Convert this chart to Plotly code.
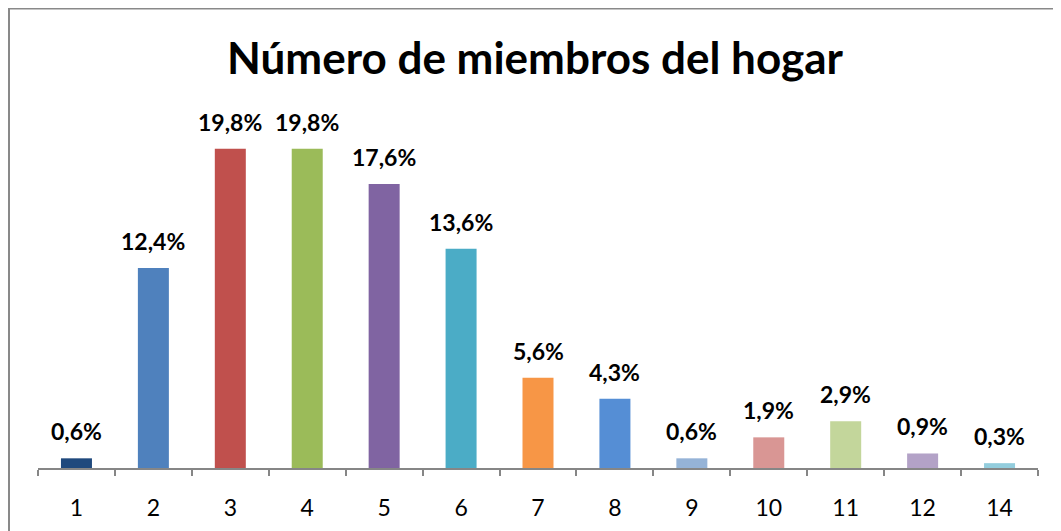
import plotly.graph_objects as go

categories = ["1", "2", "3", "4", "5", "6", "7", "8", "9", "10", "11", "12", "14"]
values = [0.6, 12.4, 19.8, 19.8, 17.6, 13.6, 5.6, 4.3, 0.6, 1.9, 2.9, 0.9, 0.3]
labels = ["0,6%", "12,4%", "19,8%", "19,8%", "17,6%", "13,6%", "5,6%", "4,3%", "0,6%", "1,9%", "2,9%", "0,9%", "0,3%"]
colors = ["#1F497D", "#4F81BD", "#C0504D", "#9BBB59", "#8064A2", "#4BACC6", "#F79646",
          "#558ED5", "#95B3D7", "#D99694", "#C3D69B", "#B3A2C7", "#93CDDD"]

W, H = 1061, 531
L, T = 30, 92
pw, ph = 1000, 368
R, B = W - L - pw, H - T - ph

fig = go.Figure()
fig.add_trace(go.Bar(x=categories, y=values, marker=dict(color=colors, line=dict(width=0)),
                     hoverinfo="skip"))

for i, (v, t) in enumerate(zip(values, labels)):
    fig.add_annotation(x=i, y=v, text="<b>" + t + "</b>", showarrow=False,
                       yanchor="bottom", yshift=11,
                       font=dict(family="Lato", size=23, color="#000000"))

def px_to_paper_x(px):
    return (px - L) / pw

def px_to_paper_y(py):
    return (H - B - py) / ph

fig.add_shape(type="rect", xref="paper", yref="paper",
              x0=px_to_paper_x(1), x1=px_to_paper_x(1080),
              y0=px_to_paper_y(560), y1=px_to_paper_y(0.5),
              line=dict(color="#898989", width=2), fillcolor="rgba(0,0,0,0)", layer="above")

fig.update_layout(
    width=W, height=H,
    margin=dict(l=L, r=R, t=T, b=B),
    paper_bgcolor="white", plot_bgcolor="white",
    bargap=0.597,
    showlegend=False,
    title=dict(text="<b>Número de miembros del hogar</b>", x=527 / W, xanchor="center",
               y=1 - 51 / H, yanchor="middle",
               font=dict(family="Lato", size=44, color="#000000")),
    xaxis=dict(type="category", range=[-0.5, len(categories) - 0.5],
               showline=True, linecolor="#868686", linewidth=2,
               ticks="outside", tickson="boundaries", ticklen=6, tickcolor="#868686",
               tickwidth=2, showgrid=False, ticklabelstandoff=18,
               tickfont=dict(family="Lato", size=23, color="#000000"),
               fixedrange=True),
    yaxis=dict(range=[0, ph / 16.13], visible=False, showgrid=False, fixedrange=True),
)

fig.write_html("out.html")
